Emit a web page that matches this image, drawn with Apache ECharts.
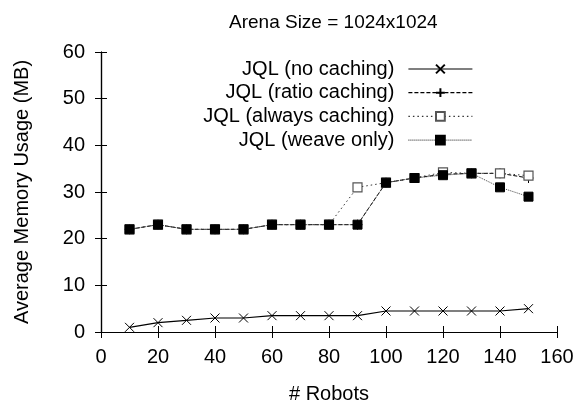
<!DOCTYPE html>
<html>
<head>
<meta charset="utf-8">
<script src="https://cdn.jsdelivr.net/npm/echarts@6/dist/echarts.min.js"></script>
<style>
  html, body { margin: 0; padding: 0; background: #fff; }
  #chart { width: 580px; height: 404px; }
</style>
</head>
<body>
<div id="chart"></div>
<script>
// robots count on the x axis
var robots = [10, 20, 30, 40, 50, 60, 70, 80, 90, 100, 110, 120, 130, 140, 150];

// memory usage (MB)
var noCaching     = [1, 2, 2.5, 3, 3, 3.5, 3.5, 3.5, 3.5, 4.5, 4.5, 4.5, 4.5, 4.5, 5];
var ratioCaching  = [22, 23, 22, 22, 22, 23, 23, 23, 23, 32, 33, 33.8, 34, 34, 33];
var alwaysCaching = [22, 23, 22, 22, 22, 23, 23, 23, 31, 32, 33, 34.2, 34, 34, 33.5];
var weaveOnly     = [22, 23, 22, 22, 22, 23, 23, 23, 23, 32, 33, 33.6, 34, 31, 29];

var seriesNames = ["JQL (no caching)", "JQL (ratio caching)", "JQL (always caching)", "JQL (weave only)"];

var FONT = "Liberation Sans, Arial, sans-serif";

function pairs(ys) {
  var out = [];
  for (var i = 0; i < robots.length; i++) {
    out.push([robots[i], ys[i]]);
  }
  return out;
}

var chart = echarts.init(document.getElementById("chart"));

var tickStyle = { inside: true, length: 6, lineStyle: { color: "#000", width: 1 } };
var lineStyle = { lineStyle: { color: "#000", width: 1.2 } };

// one legend per entry so the texts line up on the right like gnuplot's key
var legends = [];
for (var k = 0; k < seriesNames.length; k++) {
  legends.push({
    data: [seriesNames[k]],
    right: 107,
    top: 59 + k * 23.7,
    align: "right",
    itemWidth: 64,
    itemHeight: 11,
    padding: 0,
    selectedMode: false,
    lineStyle: { width: 1.2 },
    textStyle: { fontFamily: FONT, fontSize: 20, color: "#000", padding: [0, 9, 0, 0] }
  });
}

var option = {
  animation: false,
  backgroundColor: "#fff",
  title: {
    text: "Arena Size = 1024x1024",
    left: 224,
    top: 8,
    textStyle: { fontFamily: FONT, fontSize: 19, fontWeight: "normal", color: "#000" }
  },
  legend: legends,
  grid: { left: 101, right: 23, top: 52, bottom: 72, outerBoundsMode: "none" },
  xAxis: [
    {
      type: "value",
      min: 0,
      max: 160,
      interval: 20,
      name: "# Robots",
      nameLocation: "middle",
      nameGap: 52,
      nameTextStyle: { fontFamily: FONT, fontSize: 20, color: "#000" },
      axisLine: lineStyle,
      axisTick: tickStyle,
      splitLine: { show: false },
      axisLabel: { fontFamily: FONT, fontSize: 20, color: "#000", margin: 15 }
    },
    {
      type: "value",
      position: "top",
      min: 0,
      max: 160,
      interval: 20,
      axisLine: lineStyle,
      axisTick: tickStyle,
      splitLine: { show: false },
      axisLabel: { show: false }
    }
  ],
  yAxis: [
    {
      type: "value",
      min: 0,
      max: 60,
      interval: 10,
      name: "Average Memory Usage (MB)",
      nameLocation: "middle",
      nameGap: 69,
      nameTextStyle: { fontFamily: FONT, fontSize: 20, color: "#000" },
      axisLine: lineStyle,
      axisTick: tickStyle,
      splitLine: { show: false },
      axisLabel: { fontFamily: FONT, fontSize: 20, color: "#000", margin: 16 }
    },
    {
      type: "value",
      position: "right",
      min: 0,
      max: 60,
      interval: 10,
      axisLine: lineStyle,
      axisTick: tickStyle,
      splitLine: { show: false },
      axisLabel: { show: false }
    }
  ],
  series: [
    {
      name: seriesNames[0],
      type: "line",
      data: pairs(noCaching),
      symbol: "path://M0,0L10,10M10,0L0,10",
      symbolSize: 9,
      itemStyle: { color: "#000", borderColor: "#000", borderWidth: 1 },
      lineStyle: { color: "#000", width: 1.2, type: "solid" }
    },
    {
      name: seriesNames[1],
      type: "line",
      data: pairs(ratioCaching),
      symbol: "path://M5,0L5,10M0,5L10,5",
      symbolSize: 10,
      itemStyle: { color: "#000", borderColor: "#000", borderWidth: 1 },
      lineStyle: { color: "#000", width: 1, type: [4, 2] }
    },
    {
      name: seriesNames[2],
      type: "line",
      data: pairs(alwaysCaching),
      symbol: "rect",
      symbolSize: 9,
      itemStyle: { color: "#fff", borderColor: "#555", borderWidth: 1.2 },
      lineStyle: { color: "#333", width: 1, type: [1.5, 3] }
    },
    {
      name: seriesNames[3],
      type: "line",
      data: pairs(weaveOnly),
      symbol: "rect",
      symbolSize: 9,
      itemStyle: { color: "#000", borderColor: "#000", borderWidth: 1 },
      lineStyle: { color: "#444", width: 1, type: [1, 1] }
    }
  ]
};

chart.setOption(option);
</script>
</body>
</html>
